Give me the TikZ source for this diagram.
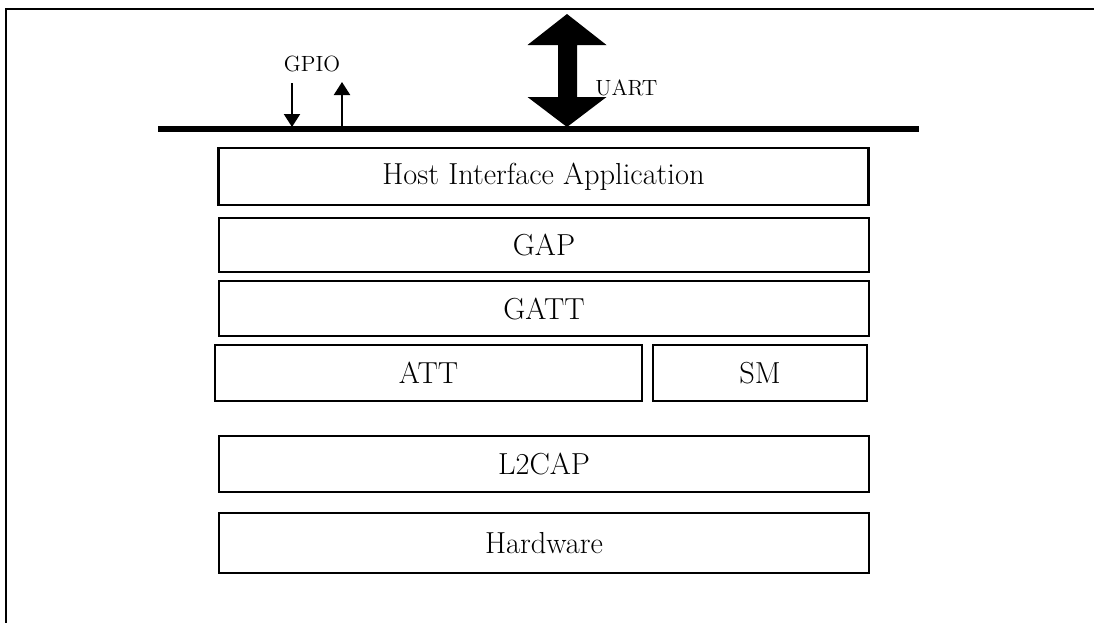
\documentclass[tikz,border=0pt]{standalone}
\usepackage{fontspec}
\usepackage{tikz}
\usetikzlibrary{arrows.meta,positioning}

\tikzset{
  layer/.style={draw, line width=1.1pt, inner sep=0pt, minimum width=325pt, minimum height=28pt,
    font=\fontsize{15.2}{18}\selectfont},
  gpioarrow/.style={line width=1.1pt, -{Triangle[length=6.5pt,width=8pt]}},
  small/.style={font=\fontsize{11}{13}\selectfont, inner sep=0pt},
}

\begin{document}
\begin{tikzpicture}[x=0.5pt,y=-0.5pt]
  \useasboundingbox (0,0) rectangle (1094,623);
  % frame
  \draw[line width=1.3pt] (1094,9) -- (6,9) -- (6,623);

  % bus
  \coordinate (busL) at (158,129);
  \coordinate (busR) at (919,129);
  \draw[line width=2.6pt] (busL) -- (busR);

  % GPIO
  \node[small] (gpio) at (312,64) {GPIO};
  \coordinate (gpioInTop) at (292,83);
  \coordinate (gpioInBot) at (292,127);
  \coordinate (gpioOutBot) at (342,127);
  \coordinate (gpioOutTop) at (342,82);
  \draw[gpioarrow] (gpioInTop) -- (gpioInBot);
  \draw[gpioarrow] (gpioOutBot) -- (gpioOutTop);

  % UART
  \fill (567,14) -- (606.5,45) -- (577,45) -- (577,97) -- (606.5,97) -- (567,127)
    -- (527.5,97) -- (558,97) -- (558,45) -- (527.5,45) -- cycle;
  \node[small, anchor=west] (uart) at (595,88) {UART};

  % layers
  \node[layer, minimum height=28.5pt] (host) at (543.5,176.5) {Host Interface Application};
  \node[layer, minimum height=27pt] (gap) at (544,245) {GAP};
  \node[layer, minimum height=27.5pt] (gatt) at (544,308.5) {GATT};
  \node[layer, minimum width=213.5pt] (att) at (428.5,373) {ATT};
  \node[layer, minimum width=107pt] (sm) at (760,373) {SM};
  \node[layer] (l2cap) at (544,464) {L2CAP};
  \node[layer, minimum height=30pt] (hw) at (544,543) {Hardware};
\end{tikzpicture}
\end{document}
